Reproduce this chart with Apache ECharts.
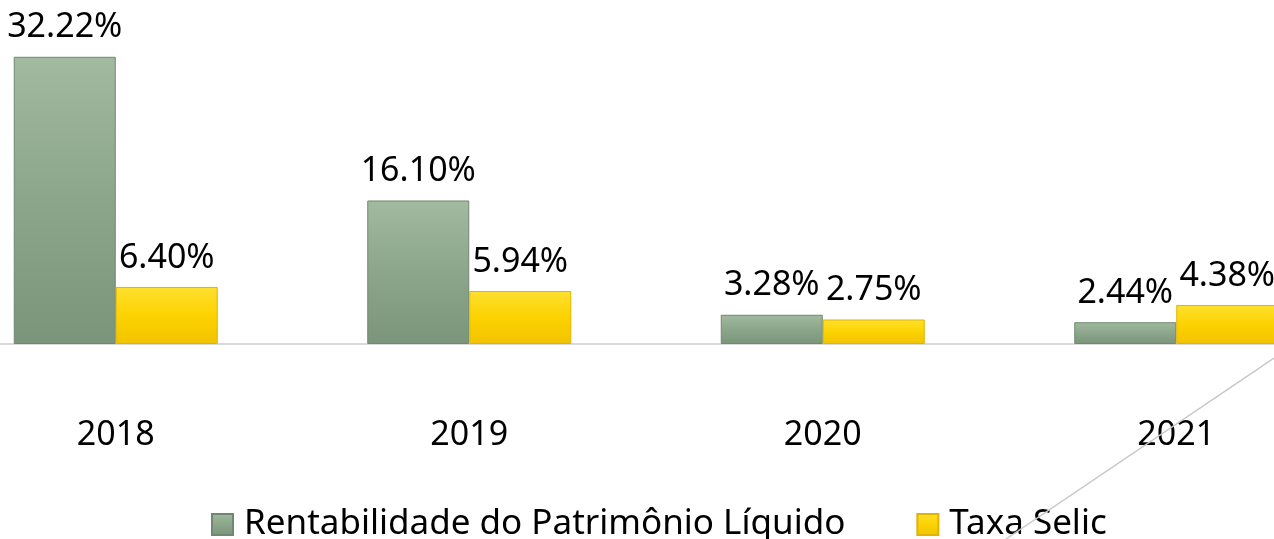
<!DOCTYPE html>
<html>
<head>
<meta charset="utf-8">
<title>Rentabilidade x Selic</title>
<script src="https://cdn.jsdelivr.net/npm/echarts@6/dist/echarts.min.js"></script>
<style>
    html,body{margin:0;padding:0;background:#fff;}
    #main{width:1274px;height:539px;}
</style>
</head>
<body>
<div id="main"></div>
<script>
// dados
var anos = ['2018', '2019', '2020', '2021'];
var rentabilidade = [32.22, 16.10, 3.28, 2.44];
var selic = [6.40, 5.94, 2.75, 4.38];
var nomes = ['Rentabilidade do Patrimônio Líquido', 'Taxa Selic'];

var fonte = '"Noto Sans", "DejaVu Sans", sans-serif';

var verde = new echarts.graphic.LinearGradient(0, 0, 0, 1, [
    {offset: 0, color: '#a2baa0'},
    {offset: 0.5, color: '#8ba68a'},
    {offset: 1, color: '#7b957b'}
]);
var amarelo = new echarts.graphic.LinearGradient(0, 0, 0, 1, [
    {offset: 0, color: '#ffe030'},
    {offset: 0.5, color: '#fcd200'},
    {offset: 1, color: '#f2c300'}
]);

var rotulo = {
    show: true,
    position: 'top',
    distance: 12,
    fontFamily: fonte,
    fontSize: 34,
    color: '#000',
    formatter: function (p) {
        return p.value.toFixed(2) + '%';
    }
};

var myChart = echarts.init(document.getElementById('main'));

var option = {
    animation: false,
    textStyle: {fontFamily: fonte},
    grid: {
        left: -61,
        right: -79,
        top: 32,
        bottom: 195,
        outerBoundsMode: 'none',
        containLabel: false
    },
    legend: {
        data: nomes,
        top: 502,
        left: 206,
        itemWidth: 21,
        itemHeight: 21,
        itemGap: 71,
        icon: 'rect',
        textStyle: {fontFamily: fonte, fontSize: 35, color: '#000', padding: [0, 0, 0, 6]}
    },
    xAxis: {
        type: 'category',
        data: anos,
        axisLine: {lineStyle: {color: '#d9d9d9', width: 2}},
        axisTick: {show: false},
        axisLabel: {margin: 74, fontSize: 34, color: '#000', fontFamily: fonte}
    },
    yAxis: {
        type: 'value',
        min: 0,
        max: 35,
        show: false,
        splitLine: {show: false}
    },
    series: [
        {
            name: nomes[0],
            type: 'bar',
            data: rentabilidade,
            barWidth: 102,
            barGap: '0%',
            itemStyle: {color: verde, borderColor: '#6f886f', borderWidth: 1},
            label: rotulo
        },
        {
            name: nomes[1],
            type: 'bar',
            data: selic,
            barWidth: 102,
            itemStyle: {color: amarelo, borderColor: '#e0b400', borderWidth: 1},
            label: rotulo
        }
    ],
    // linha diagonal cinza no canto
    graphic: [
        {
            type: 'line',
            shape: {x1: 1274, y1: 358, x2: 1006, y2: 539},
            style: {stroke: '#c8c8c8', lineWidth: 1.5},
            z: 100
        }
    ]
};

myChart.setOption(option);
</script>
</body>
</html>
